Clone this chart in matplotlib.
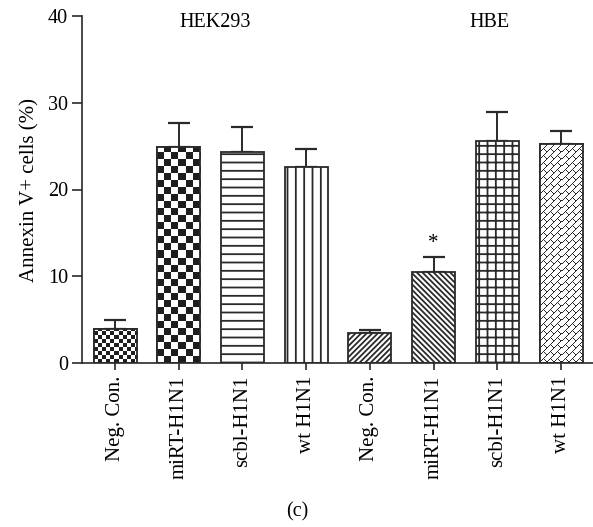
import matplotlib
matplotlib.use("Agg")
import matplotlib.pyplot as plt
import numpy as np

plt.rcParams['font.family'] = ['Liberation Serif', 'DejaVu Serif']
plt.rcParams['hatch.linewidth'] = 1.3
plt.rcParams['hatch.color'] = '#2a2a2a'

# donnees
labels = ['Neg. Con.', 'miRT-H1N1', 'scbl-H1N1', 'wt H1N1',
          'Neg. Con.', 'miRT-H1N1', 'scbl-H1N1', 'wt H1N1']
values = [3.9, 24.9, 24.3, 22.6, 3.45, 10.45, 25.6, 25.2]
errors = [1.0, 2.8, 2.9, 2.05, 0.4, 1.75, 3.3, 1.5]
groups = ['HEK293', 'HBE']
# motif de chaque barre (None -> motif dessine en image)
hatches = [None, None, '--', '||', '//////', '\\\\\\\\\\\\', '++', None]

ink = '#2a2a2a'

fig = plt.figure(figsize=(5.93, 5.27), dpi=100)
ax = fig.add_axes([82/593, 1-363/527, 1-82/593, (363-16)/527])

x = np.arange(len(values))
bars = ax.bar(x, values, width=0.675, color='white', edgecolor=ink,
              linewidth=1.3, zorder=2)
for b, h in zip(bars, hatches):
    if h is not None:
        b.set_hatch(h)

ax.errorbar(x, values, yerr=[np.zeros(len(errors)), errors], fmt='none',
            ecolor=ink, elinewidth=1.4, capsize=8, capthick=1.6, zorder=1)

ax.set_xlim(-0.518, 7.5)
ax.set_ylim(0, 40)


def bar_pixels(b):
    (x0, y0), (x1, y1) = ax.transData.transform(
        [(b.get_x(), b.get_y()), (b.get_x() + b.get_width(), b.get_y() + b.get_height())])
    return int(round(x1 - x0)), int(round(y1 - y0))


def put_image(b, img):
    im = ax.imshow(img, cmap='gray', vmin=0, vmax=1, interpolation='nearest',
                   aspect='auto', zorder=2.5,
                   extent=[b.get_x(), b.get_x() + b.get_width(), b.get_y(), b.get_y() + b.get_height()])
    im.set_clip_path(b)


def checker(b, cell):
    w, h = bar_pixels(b)
    jj, ii = np.meshgrid(np.arange(w), np.arange(h))
    img = (((ii // cell) + (jj // cell)) % 2).astype(float)
    img = np.where(img > 0, 0.12, 1.0)
    put_image(b, img[::-1])


def herringbone(b):
    w, h = bar_pixels(b)
    jj, ii = np.meshgrid(np.arange(w), np.arange(h))
    u = ii + jj
    v = ii - jj + 1000
    row = u // 7
    img = np.ones((h, w))
    img[(u % 7) == 0] = 0.15
    img[(((v + (row % 2) * 7) % 14) == 0)] = 0.15
    put_image(b, img)


checker(bars[0], 4)
checker(bars[1], 7)
herringbone(bars[7])
for b in [bars[0], bars[1], bars[7]]:
    ax.bar(b.get_x() + b.get_width()/2, b.get_height(), width=b.get_width(),
           color='none', edgecolor=ink, linewidth=1.3, zorder=3)

ax.text(5, values[5] + errors[5] + 0.5, '*', ha='center', va='bottom', fontsize=15)
ax.text(1.57, 39.3, groups[0], ha='center', va='center', fontsize=14.5)
ax.text(5.87, 39.3, groups[1], ha='center', va='center', fontsize=14.5)

ax.set_xticks(x)
ax.set_xticklabels(labels, rotation=90, fontsize=15)
ax.set_yticks([0, 10, 20, 30, 40])
ax.tick_params(axis='y', labelsize=14.5, length=7, width=1.2, color=ink, pad=3)
ax.tick_params(axis='x', length=5, width=1.2, color=ink, pad=4)
ax.set_ylabel('Annexin V+ cells (%)', fontsize=15, labelpad=6)
for s in ['top', 'right']:
    ax.spines[s].set_visible(False)
for s in ['left', 'bottom']:
    ax.spines[s].set_linewidth(1.2)
    ax.spines[s].set_color(ink)

fig.text(297/593, 1-512/527, '(c)', ha='center', va='center', fontsize=14.5)

fig.savefig('out.png', dpi=100)
